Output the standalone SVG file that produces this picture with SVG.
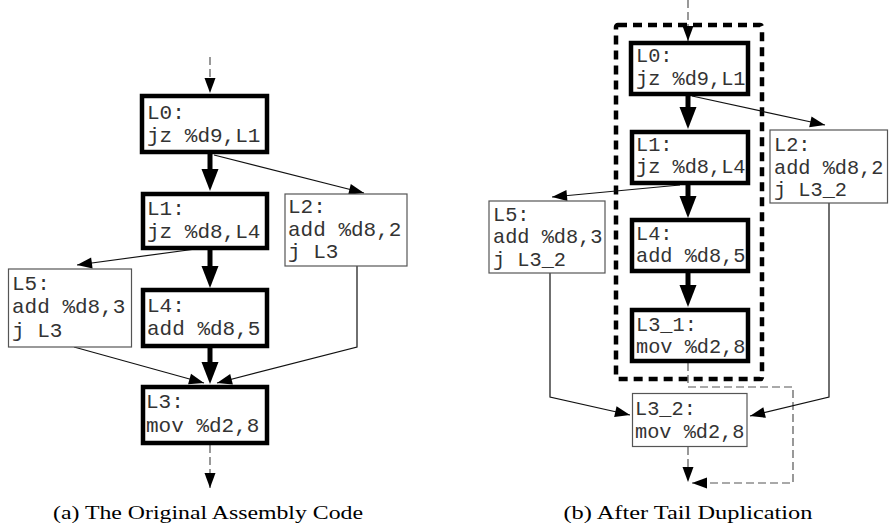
<svg xmlns="http://www.w3.org/2000/svg" width="889" height="532" viewBox="0 0 889 532">
  <style>
    .blk { fill: #ffffff; }
    .hot { stroke: #000000; stroke-width: 4.5; }
    .cold { stroke: #555555; stroke-width: 1.2; }
    .code { font-family: "Liberation Mono", "Courier New", monospace; fill: #333333; }
    .ca { font-size: 21px; }
    .cb { font-size: 20.3px; }
    .edge { fill: none; stroke: #111111; stroke-width: 1.2; }
    .fall { fill: none; stroke: #000000; stroke-width: 5; }
    .flow { fill: none; stroke: #555555; stroke-width: 1.2; stroke-dasharray: 8 4; }
    .trace { fill: none; stroke: #000000; stroke-width: 4.5; stroke-dasharray: 9 6; }
    .cap { font-family: "Liberation Serif", "Times New Roman", serif; font-size: 19px; fill: #000000; }
  </style>
  <defs>
    <!-- thin arrowhead: tip sits on the path end -->
    <marker id="tip" markerUnits="userSpaceOnUse" markerWidth="40" markerHeight="40" orient="auto" refX="0" refY="0" overflow="visible">
      <path d="M-15,-5.5 L0,0 L-15,5.5 z" fill="#000000"/>
    </marker>
    <!-- heavy arrowhead: base sits on the path end -->
    <marker id="head" markerUnits="userSpaceOnUse" markerWidth="60" markerHeight="60" orient="auto" refX="0" refY="0" overflow="visible">
      <path d="M0,-8.5 L22,0 L0,8.5 z" fill="#000000"/>
    </marker>
  </defs>

  <!-- ===== (a) original code ===== -->
  <g id="a-edges">
    <path class="flow" d="M210,57 L210,93" marker-end="url(#tip)"/>
    <path class="fall" d="M210,154 L210,169" marker-end="url(#head)"/>
    <path class="edge" d="M214,155 L364,193" marker-end="url(#tip)"/>
    <path class="edge" d="M203,248 L77,265" marker-end="url(#tip)"/>
    <path class="fall" d="M210,250 L210,266" marker-end="url(#head)"/>
    <path class="fall" d="M210,348 L210,362" marker-end="url(#head)"/>
    <path class="edge" d="M74,347 L204,383" marker-end="url(#tip)"/>
    <path class="edge" d="M357,266 L357,347 L217,383" marker-end="url(#tip)"/>
    <path class="flow" d="M210,445 L210,488" marker-end="url(#tip)"/>
  </g>

  <g id="a-L0">
    <rect class="blk hot" x="142" y="96" width="125" height="56"/>
    <text class="code ca" x="147" y="119">L0:</text>
    <text class="code ca" x="147" y="142">jz %d9,L1</text>
  </g>
  <g id="a-L1">
    <rect class="blk hot" x="143" y="194" width="124" height="54"/>
    <text class="code ca" x="147" y="215">L1:</text>
    <text class="code ca" x="147" y="238">jz %d8,L4</text>
  </g>
  <g id="a-L2">
    <rect class="blk cold" x="285" y="194" width="122" height="72"/>
    <text class="code ca" x="288" y="213">L2:</text>
    <text class="code ca" x="288" y="236">add %d8,2</text>
    <text class="code ca" x="288" y="258">j L3</text>
  </g>
  <g id="a-L5">
    <rect class="blk cold" x="8.5" y="269" width="123" height="78"/>
    <text class="code ca" x="12" y="290">L5:</text>
    <text class="code ca" x="12" y="313">add %d8,3</text>
    <text class="code ca" x="12" y="337">j L3</text>
  </g>
  <g id="a-L4">
    <rect class="blk hot" x="143" y="290" width="124" height="56"/>
    <text class="code ca" x="147" y="312">L4:</text>
    <text class="code ca" x="147" y="335">add %d8,5</text>
  </g>
  <g id="a-L3">
    <rect class="blk hot" x="143" y="387" width="124" height="56"/>
    <text class="code ca" x="146" y="408">L3:</text>
    <text class="code ca" x="146" y="432">mov %d2,8</text>
  </g>
  <text class="cap" x="208" y="519" text-anchor="middle" textLength="310" lengthAdjust="spacingAndGlyphs">(a) The Original Assembly Code</text>

  <!-- ===== (b) after tail duplication ===== -->
  <rect id="b-trace" class="trace" x="616" y="25" width="146" height="354" rx="2"/>

  <g id="b-edges">
    <path class="flow" d="M688,0 L688,41" marker-end="url(#tip)"/>
    <path class="fall" d="M688,96 L688,107" marker-end="url(#head)"/>
    <path class="edge" d="M692,96 L825,125" marker-end="url(#tip)"/>
    <path class="edge" d="M680,185 L552,197" marker-end="url(#tip)"/>
    <path class="fall" d="M688,184 L688,196" marker-end="url(#head)"/>
    <path class="fall" d="M688,273 L688,285" marker-end="url(#head)"/>
    <path class="flow" d="M688,363 L688,387 L793,387 L793,483 L692,483" marker-end="url(#tip)"/>
    <path class="edge" d="M550,273 L550,397 L630,415" marker-end="url(#tip)"/>
    <path class="edge" d="M829,203 L829,397 L750,416" marker-end="url(#tip)"/>
    <path class="flow" d="M688,447 L688,482" marker-end="url(#tip)"/>
  </g>

  <g id="b-L0">
    <rect class="blk hot" x="631" y="43" width="117" height="51"/>
    <text class="code cb" x="636" y="62">L0:</text>
    <text class="code cb" x="636" y="85">jz %d9,L1</text>
  </g>
  <g id="b-L1">
    <rect class="blk hot" x="632" y="132" width="116" height="51"/>
    <text class="code cb" x="636" y="151">L1:</text>
    <text class="code cb" x="636" y="173">jz %d8,L4</text>
  </g>
  <g id="b-L2">
    <rect class="blk cold" x="770" y="130" width="117.5" height="73"/>
    <text class="code cb" x="774" y="151">L2:</text>
    <text class="code cb" x="774" y="174">add %d8,2</text>
    <text class="code cb" x="774" y="196">j L3_2</text>
  </g>
  <g id="b-L5">
    <rect class="blk cold" x="489" y="201" width="116" height="72"/>
    <text class="code cb" x="493" y="221">L5:</text>
    <text class="code cb" x="493" y="243">add %d8,3</text>
    <text class="code cb" x="493" y="266">j L3_2</text>
  </g>
  <g id="b-L4">
    <rect class="blk hot" x="632" y="220" width="116" height="51"/>
    <text class="code cb" x="636" y="240">L4:</text>
    <text class="code cb" x="636" y="262">add %d8,5</text>
  </g>
  <g id="b-L3_1">
    <rect class="blk hot" x="632" y="310" width="116" height="51"/>
    <text class="code cb" x="636" y="331">L3_1:</text>
    <text class="code cb" x="636" y="353">mov %d2,8</text>
  </g>
  <g id="b-L3_2">
    <rect class="blk cold" x="632.5" y="393.5" width="114.5" height="53"/>
    <text class="code cb" x="635" y="415">L3_2:</text>
    <text class="code cb" x="635" y="438">mov %d2,8</text>
  </g>
  <text class="cap" x="688" y="519" text-anchor="middle" textLength="249" lengthAdjust="spacingAndGlyphs">(b) After Tail Duplication</text>
</svg>
